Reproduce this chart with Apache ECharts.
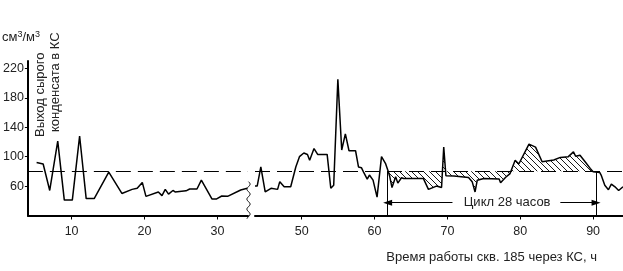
<!DOCTYPE html>
<html><head><meta charset="utf-8">
<script src="https://cdn.jsdelivr.net/npm/echarts@6/dist/echarts.min.js"></script>
<style>html,body{margin:0;padding:0;background:#fff}#c{width:623px;height:271px}</style>
</head><body><div id="c"></div>
<script>
// ---- data ----
const leftX = [5.2, 6.1, 7.0, 8.1, 9.0, 10.1, 11.1, 12.0, 13.1, 15.1, 16.9, 18.3, 19.0, 19.7, 20.2, 21.9, 22.4, 22.85, 23.3, 23.9, 24.2, 25.7, 26.2, 27.2, 27.8, 29.25, 29.9, 30.6, 31.4, 33.2, 34.1];
const leftY = [92, 90, 54, 121, 41, 41, 128, 43, 43, 79, 50, 55.5, 57, 65, 46, 52, 47, 55.5, 49, 54, 52, 53.5, 56, 56, 68, 42.5, 42.5, 46.5, 46, 54.6, 57];
const rightX = [43.6, 43.9, 44.4, 45.0, 45.8, 46.7, 47.0, 47.6, 48.5, 49.2, 49.7, 50.3, 50.8, 51.1, 51.7, 52.2, 53.5, 54.0, 54.4, 54.97, 55.5, 56.0, 56.5, 57.4, 57.8, 58.2, 58.5, 59.0, 59.3, 59.8, 60.35, 60.96, 61.5, 61.9, 62.1, 62.4, 62.9, 63.2, 63.7, 64.0, 65.8, 66.7, 67.4, 68.5, 69.2, 69.5, 69.8, 70.9, 72.9, 73.4, 73.8, 74.1, 75.0, 77.1, 77.3, 78.0, 78.6, 79.3, 79.8, 81.2, 82.1, 83.0, 84.6, 85.5, 86.6, 87.3, 87.6, 88.2, 88.9, 89.6, 90.0, 90.9, 91.1, 91.6, 92.1, 92.5, 93.0, 93.5, 94.1];
const rightY = [60, 60, 86, 52, 57, 55.5, 66, 59, 59, 86, 100, 105, 103, 95, 111, 103, 103, 57, 61, 205, 109, 131, 108, 108, 86, 85, 79, 69.5, 75, 68, 45, 100, 91, 79.4, 72.6, 58, 72.6, 64, 71.3, 70.4, 70.4, 70.4, 55.5, 60, 58, 113, 74, 73.6, 71.8, 66, 52, 68, 70.4, 69.5, 64.5, 72, 77, 95, 90, 117, 113, 93, 95.5, 99, 100, 106.5, 100.5, 102, 93, 84, 79.4, 78.6, 75, 61, 55, 62.7, 59, 54, 59];
const yTicks = [60, 100, 140, 180, 220];
const leftXTicks = [10, 20, 30];
const rightXTicks = [50, 60, 70, 80, 90];
const refLevel = 80;
const cycleStart = 61.8, cycleEnd = 90.4;
const hatchFrom = 61.9, hatchTo = 90.0;
const cycleArrowY = 37.5;
const cycleLabel = 'Цикл 28 часов';
const cycleLabelX = 78.2;
const cycleLeftArrowFrom = 70.7, cycleRightArrowFrom = 85.5;
const unitText = 'см{s|3}/м{s|3}';
const yTitle1 = 'Выход сырого';
const yTitle2 = 'конденсата в КС';
const xTitle = 'Время работы скв. 185 через КС, ч';

// ---- build ----
const zip = (xs, ys) => xs.map((x, i) => [x, ys[i]]);
const leftData = zip(leftX, leftY);
const rightData = zip(rightX, rightY);
const hatchData = rightData.filter(p => p[0] >= hatchFrom && p[0] <= hatchTo);

const pat = document.createElement('canvas');
pat.width = 6; pat.height = 6;
const g = pat.getContext('2d');
g.strokeStyle = '#000'; g.lineWidth = 0.9;
for (let k = -1; k <= 1; k++) { g.beginPath(); g.moveTo(k * 6, 0); g.lineTo(k * 6 + 6, 6); g.stroke(); }

const FONT = 'Liberation Sans';
const axisCommon = (min, max, ticks) => ({
  type: 'value', min, max,
  axisLine: { show: true, onZero: false, lineStyle: { color: '#000', width: 2 } },
  axisTick: { show: true, customValues: ticks, length: 4, lineStyle: { color: '#000', width: 1 } },
  axisLabel: { customValues: ticks, fontSize: 12.5, color: '#222', margin: 10, fontFamily: FONT },
  splitLine: { show: false }
});
const dashed = { color: '#000', width: 1, type: [15, 7] };
const solid = { color: '#000', width: 1, type: 'solid' };

const chart = echarts.init(document.getElementById('c'), null, { renderer: 'canvas' });
chart.setOption({
  animation: false,
  textStyle: { fontFamily: FONT },
  grid: [
    { left: 24, top: 61, width: 224, bottom: 55.5 },
    { left: 255, top: 61, right: 0, bottom: 55.5 }
  ],
  xAxis: [
    Object.assign({ gridIndex: 0 }, axisCommon(4, 34.2, leftXTicks)),
    Object.assign({ gridIndex: 1 }, axisCommon(43.6, 94.1, rightXTicks))
  ],
  yAxis: [
    { gridIndex: 0, type: 'value', min: 20, max: 230,
      axisLine: { show: true, lineStyle: { color: '#000', width: 2 } },
      axisTick: { show: true, customValues: yTicks, length: 3, lineStyle: { color: '#000', width: 1 } },
      axisLabel: { customValues: yTicks, fontSize: 12.5, color: '#222', margin: 4, fontFamily: FONT },
      splitLine: { show: false } },
    { gridIndex: 1, type: 'value', min: 20, max: 230, show: false, splitLine: { show: false } }
  ],
  series: [
    { type: 'line', xAxisIndex: 0, yAxisIndex: 0, data: leftData, symbol: 'none',
      lineStyle: { color: '#000', width: 1.5 }, z: 3,
      markLine: { silent: true, symbol: 'none', label: { show: false }, lineStyle: dashed,
        data: [{ yAxis: refLevel }] } },
    { type: 'line', xAxisIndex: 1, yAxisIndex: 1, data: hatchData, symbol: 'none',
      lineStyle: { width: 0 }, z: 1,
      areaStyle: { origin: refLevel, color: { image: pat, repeat: 'repeat' }, opacity: 1 } },
    { type: 'line', xAxisIndex: 1, yAxisIndex: 1, data: rightData, symbol: 'none',
      lineStyle: { color: '#000', width: 1.5 }, z: 3,
      markLine: { silent: true, symbol: 'none', label: { show: false }, lineStyle: dashed,
        data: [
          { yAxis: refLevel },
          [{ coord: [cycleStart, refLevel], lineStyle: solid }, { coord: [cycleStart, 20] }],
          [{ coord: [cycleEnd, refLevel], lineStyle: solid }, { coord: [cycleEnd, 20] }],
          [{ coord: [cycleLeftArrowFrom, cycleArrowY], lineStyle: solid, symbol: 'none' },
           { coord: [cycleStart, cycleArrowY], symbol: 'triangle', symbolSize: [6, 9], symbolRotate: 90 }],
          [{ coord: [cycleRightArrowFrom, cycleArrowY], lineStyle: solid, symbol: 'none' },
           { coord: [cycleEnd, cycleArrowY], symbol: 'triangle', symbolSize: [6, 9], symbolRotate: -90 }]
        ] },
      markPoint: { silent: true, symbol: 'circle', symbolSize: 1, itemStyle: { color: 'rgba(0,0,0,0)' },
        label: { show: true, position: 'inside', color: '#222', fontSize: 13, fontFamily: FONT, formatter: cycleLabel },
        data: [{ coord: [cycleLabelX, cycleArrowY] }] } }
  ]
});

// decorations: axis break, titles
const bx = chart.convertToPixel({ xAxisIndex: 0 }, 34.2) + 0.5;
const byTop = chart.convertToPixel({ yAxisIndex: 0 }, 66);
const byBot = chart.convertToPixel({ yAxisIndex: 0 }, 20) + 4;
const wave = [];
for (let y = byTop; y <= byBot; y += 1) wave.push([bx + 1.6 * Math.sin((y - byTop) / 10 * 2 * Math.PI), y]);
chart.setOption({
  graphic: [
    { type: 'polyline', shape: { points: wave }, style: { stroke: '#000', lineWidth: 1, fill: null }, z: 10 },
    { type: 'text', x: 2, y: 30, style: { text: unitText, font: '13px "Liberation Sans"', fill: '#222',
      rich: { s: { fontSize: 9, verticalAlign: 'top', padding: [0, 0, 6, 0] } } } },
    { type: 'text', x: 40, y: 137, rotation: Math.PI / 2,
      style: { text: yTitle1, font: '13px "Liberation Sans"', fill: '#222', align: 'left', verticalAlign: 'middle' } },
    { type: 'text', x: 55, y: 132, rotation: Math.PI / 2,
      style: { text: yTitle2, font: '13px "Liberation Sans"', fill: '#222', align: 'left', verticalAlign: 'middle' } },
    { type: 'text', x: 597, y: 257,
      style: { text: xTitle, font: '13px "Liberation Sans"', fill: '#222', align: 'right', verticalAlign: 'middle' } }
  ]
});
</script></body></html>
